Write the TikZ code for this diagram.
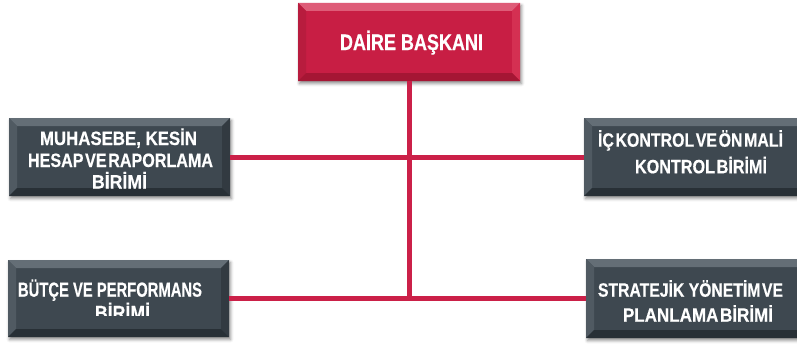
\documentclass[tikz,border=0pt]{standalone}
\usepackage{fontspec}
\usetikzlibrary{shadows.blur}

\newfontfamily\boxfont{Liberation Sans Bold}[FakeBold=0.5]

\definecolor{linkred}{RGB}{203,32,72}
\definecolor{redmain}{RGB}{200,30,68}
\definecolor{redtop}{RGB}{222,92,120}
\definecolor{redleft}{RGB}{184,28,62}
\definecolor{redright}{RGB}{212,48,82}
\definecolor{redbottom}{RGB}{165,22,52}
\definecolor{slatemain}{RGB}{62,72,80}
\definecolor{slatetop}{RGB}{100,110,118}
\definecolor{slateleft}{RGB}{80,90,98}
\definecolor{slateright}{RGB}{50,58,65}
\definecolor{slatebottom}{RGB}{40,48,54}

% narrow word spacing used in the condensed captions
\newcommand\tightspace{\spaceskip=0.1em\relax}
% one caption line set to a given width and cap height
\newcommand\capline[3]{\resizebox{#1}{#2}{\boxfont\smash{#3}\vphantom{H}}}

% four bevel faces (top, left, right, bottom) of a raised panel
\newcommand\bevelfaces[4]{%
  \fill[#1] (path picture bounding box.north west) -- (path picture bounding box.north east)
    -- ([xshift=-8pt,yshift=-8pt]path picture bounding box.north east)
    -- ([xshift=8pt,yshift=-8pt]path picture bounding box.north west) -- cycle;
  \fill[#2] (path picture bounding box.north west) -- (path picture bounding box.south west)
    -- ([xshift=8pt,yshift=8pt]path picture bounding box.south west)
    -- ([xshift=8pt,yshift=-8pt]path picture bounding box.north west) -- cycle;
  \fill[#3] (path picture bounding box.north east) -- (path picture bounding box.south east)
    -- ([xshift=-8pt,yshift=8pt]path picture bounding box.south east)
    -- ([xshift=-8pt,yshift=-8pt]path picture bounding box.north east) -- cycle;
  \fill[#4] (path picture bounding box.south west) -- (path picture bounding box.south east)
    -- ([xshift=-8pt,yshift=8pt]path picture bounding box.south east)
    -- ([xshift=8pt,yshift=8pt]path picture bounding box.south west) -- cycle;
}

\tikzset{
  panel/.style={rectangle, inner sep=0pt, outer sep=0pt,
    blur shadow={shadow xshift=1.5pt, shadow yshift=-2.5pt,
                 shadow blur radius=3pt, shadow opacity=45}},
  headpanel/.style={panel, fill=redmain,
    path picture={\bevelfaces{redtop}{redleft}{redright}{redbottom}}},
  unitpanel/.style={panel, fill=slatemain,
    path picture={\bevelfaces{slatetop}{slateleft}{slateright}{slatebottom}}},
  caption/.style={anchor=base, inner sep=0pt, outer sep=0pt, text=white},
  link/.style={draw=linkred, line width=5pt},
}

\begin{document}
\begin{tikzpicture}[x=1pt, y=-1pt]
  \useasboundingbox (0,0) rectangle (797,345);

  % panels
  \node[headpanel, minimum width=222pt, minimum height=78pt] (head) at (409,42) {};
  \node[unitpanel, minimum width=221pt, minimum height=78pt] (acc) at (119.5,157) {};
  \node[unitpanel, minimum width=226pt, minimum height=78pt] (ctrl) at (697,157) {};
  \node[unitpanel, minimum width=221pt, minimum height=77pt] (budget) at (118.5,298.5) {};
  \node[unitpanel, minimum width=224pt, minimum height=79pt] (plan) at (698,298.5) {};

  % connectors
  \coordinate (trunk) at (head.south |- budget.east);
  \draw[link] (head.south) -- ([yshift=-2.5pt]trunk);
  \draw[link] (acc.east) -- (ctrl.west);
  \draw[link] (budget.east) -- (plan.west);

  % captions
  \node[caption] (head-t) at (411.5,50) {\capline{143pt}{15.5pt}{DAİRE BAŞKANI}};

  \node[caption] (acc-t1) at (118.5,145) {\capline{157pt}{13.3pt}{MUHASEBE, KESİN}};
  \node[caption] (acc-t2) at (120.5,167) {\capline{185pt}{13.3pt}{\tightspace HESAP VE RAPORLAMA}};
  \node[caption] (acc-t3) at (119.5,188.5) {\capline{55pt}{13.3pt}{BİRİMİ}};

  \node[caption] (ctrl-t1) at (690.5,146.7) {\capline{185pt}{13.3pt}{\tightspace İÇ KONTROL VE ÖN MALİ}};
  \node[caption] (ctrl-t2) at (701,173.3) {\capline{132pt}{13.3pt}{\tightspace KONTROL BİRİMİ}};

  \node[caption] (plan-t1) at (690.5,296.7) {\capline{185pt}{13.3pt}{STRATEJİK {\tightspace YÖNETİM VE}}};
  \node[caption] (plan-t2) at (698,321.7) {\capline{150pt}{13.3pt}{\tightspace PLANLAMA BİRİMİ}};

  \node[caption] (budget-t1) at (110,296.7) {\capline{184pt}{14pt}{BÜTÇE VE PERFORMANS}};
  \begin{scope}
    \clip (0,0) rectangle (797,315);
    \node[caption] (budget-t2) at (122.5,320) {\capline{55pt}{14pt}{BİRİMİ}};
  \end{scope}
\end{tikzpicture}
\end{document}
